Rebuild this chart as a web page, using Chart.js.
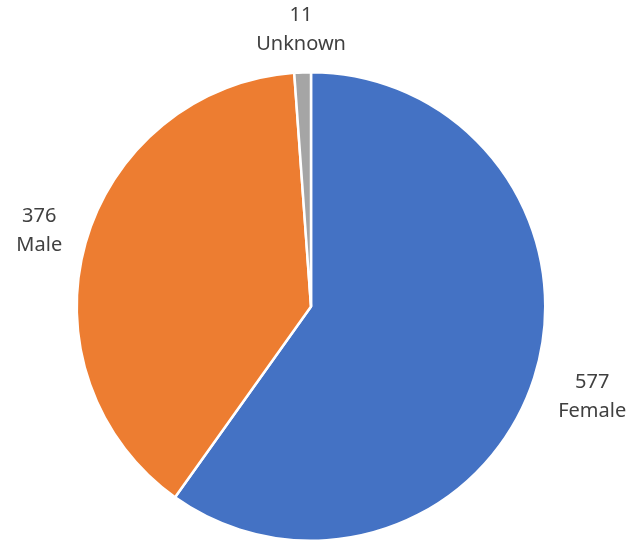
<!DOCTYPE html>
<html>
<head>
<meta charset="utf-8">
<script src="https://cdn.jsdelivr.net/npm/chart.js@4.4.1/dist/chart.umd.min.js"></script>
<style>
  html, body { margin: 0; padding: 0; background: #fff; }
  #wrap { width: 636px; height: 542px; }
</style>
</head>
<body>
<div id="wrap"><canvas id="myChart"></canvas></div>
<script>
const categories = ['Female', 'Male', 'Unknown'];
const counts = [577, 376, 11];
const colors = ['#4472C4', '#ED7D31', '#A5A5A5'];

// how far outside the rim each label sits
const labelGap = [61, 48, 43];

// draws "value\nname" outside each slice
const outsideLabels = {
  id: 'outsideLabels',
  afterDatasetsDraw(chart) {
    const ctx = chart.ctx;
    const meta = chart.getDatasetMeta(0);
    ctx.save();
    ctx.font = '20px "Noto Sans", sans-serif';
    ctx.fillStyle = '#404040';
    ctx.textAlign = 'center';
    ctx.textBaseline = 'middle';
    meta.data.forEach(function(arc, i) {
      const mid = (arc.startAngle + arc.endAngle) / 2;
      const r = arc.outerRadius + labelGap[i];
      const x = arc.x + Math.cos(mid) * r;
      const y = arc.y + Math.sin(mid) * r;
      ctx.fillText(String(counts[i]), x, y - 14);
      ctx.fillText(categories[i], x, y + 15);
    });
    ctx.restore();
  }
};

const data = {
  labels: categories,
  datasets: [{
    data: counts,
    backgroundColor: colors,
    borderColor: '#ffffff',
    borderWidth: 2.5
  }]
};

const config = {
  type: 'pie',
  data: data,
  options: {
    responsive: true,
    maintainAspectRatio: false,
    animation: false,
    layout: {
      padding: { top: 71, bottom: -4, left: 0, right: 14 }
    },
    plugins: {
      legend: { display: false },
      tooltip: { enabled: false }
    }
  },
  plugins: [outsideLabels]
};

const myChart = new Chart(document.getElementById('myChart'), config);
</script>
</body>
</html>
